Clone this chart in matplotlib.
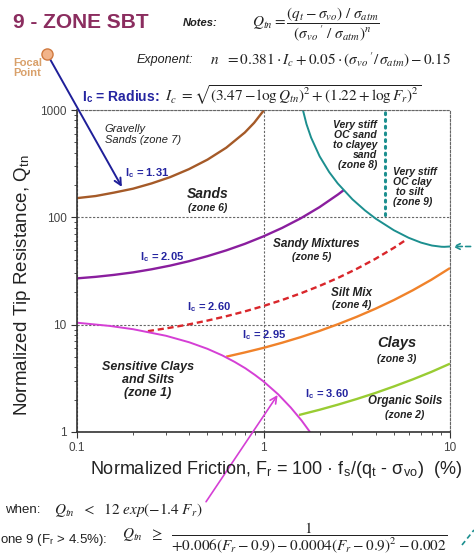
import matplotlib
matplotlib.use("Agg")
import matplotlib.pyplot as plt
from matplotlib.lines import Line2D
from matplotlib.ticker import LogLocator, NullFormatter

plt.rcParams['font.family'] = ['Liberation Sans', 'DejaVu Sans']
plt.rcParams['mathtext.fontset'] = 'stix'

W, H = 474, 560

# --- Ic contours (Fr in %, Qtn) ---
ic_values = [1.31, 2.05, 2.60, 2.95, 3.60]

ic131_fr = [0.1, 0.126, 0.158, 0.2, 0.251, 0.316, 0.398, 0.501, 0.631, 0.794, 0.891, 1.0, 1.007]
ic131_q = [151, 158, 170, 185, 207, 237, 281, 345, 445, 617, 760, 984, 1000]

ic205_fr = [0.1, 0.126, 0.158, 0.2, 0.251, 0.316, 0.398, 0.501, 0.631, 0.794, 1.0,
            1.259, 1.585, 1.995, 2.512, 2.69]
ic205_q = [27.0, 27.9, 29.1, 30.7, 32.8, 35.5, 39.0, 43.5, 49.2, 56.6, 66.5,
           79.7, 98.0, 124.3, 163.6, 179]

ic260_fr = [0.24, 0.316, 0.398, 0.501, 0.631, 0.794, 1.0, 1.259, 1.585, 1.995, 2.512,
            3.162, 3.981, 5.012, 5.9]
ic260_q = [8.7, 9.37, 10.06, 10.92, 11.98, 13.29, 14.93, 16.98, 19.59, 22.94, 27.31,
           33.13, 41.04, 52.11, 62.8]

ic295_fr = [0.631, 0.794, 1.0, 1.259, 1.585, 1.995, 2.512, 3.162, 3.981, 5.012, 6.31, 7.943, 10]
ic295_q = [5.03, 5.51, 6.08, 6.79, 7.66, 8.74, 10.11, 11.84, 14.07, 16.99, 20.90, 26.21, 33.68]

ic360_fr = [1.55, 1.778, 1.995, 2.512, 3.162, 3.981, 5.012, 6.31, 7.943, 10]
ic360_q = [1.44, 1.53, 1.61, 1.80, 2.03, 2.31, 2.66, 3.09, 3.63, 4.33]

# zone 1 boundary
zone1_fr = [0.1, 0.15, 0.2, 0.3, 0.4, 0.5, 0.6, 0.7, 0.8, 0.9, 1.0, 1.2, 1.4, 1.6, 1.775]
zone1_q = [10.43, 9.73, 9.07, 7.88, 6.85, 5.96, 5.18, 4.50, 3.92, 3.40, 2.96, 2.24, 1.69, 1.28, 1.0]

# zone 8 / zone 9 boundary
zone89_fr = [1.6, 1.7, 1.8, 2.0, 2.25, 2.5, 3.0, 3.5, 4.0, 5.0, 6.0, 7.0, 8.0, 9.0, 9.33, 10]
zone89_q = [1121, 739, 553, 370, 264, 207, 147, 116, 97.1, 75.8, 64.5, 58.1, 54.6, 53.2, 53.1, 53.5]

# Fr = 4.5 % split between zones 8 and 9
split_fr = [4.5, 4.5]
split_q = [105, 1000]

curve_data = [(ic131_fr, ic131_q), (ic205_fr, ic205_q), (ic260_fr, ic260_q),
              (ic295_fr, ic295_q), (ic360_fr, ic360_q)]
curve_colors = ['#A55A28', '#8A1E9E', '#D9262B', '#F0822A', '#99CC33']
curve_styles = ['-', '-', (0, (2.6, 1.6)), '-', '-']
ic_label_pos = [(0.181, 257), (0.218, 42.5), (0.389, 14.5), (0.767, 7.99), (1.67, 2.26)]

BLUE = '#2424A0'
TEAL = '#1C8F8F'
MAGENTA = '#D53FD5'
INK = '#222222'


def fp(x, y):
    """pixel position -> figure fraction"""
    return x / W, 1 - y / H


fig = plt.figure(figsize=(W / 100, H / 100), dpi=100)
ax = fig.add_axes([77 / W, 1 - 432 / H, 373 / W, 322 / H])
ax.set_xscale('log')
ax.set_yscale('log')
ax.set_xlim(0.1, 10)
ax.set_ylim(1, 1000)

for (fr, q), c, ls in zip(curve_data, curve_colors, curve_styles):
    ax.plot(fr, q, color=c, ls=ls, lw=1.7, solid_capstyle='butt')
ax.plot(zone1_fr, zone1_q, color=MAGENTA, lw=1.4)
ax.plot(zone89_fr, zone89_q, color=TEAL, lw=1.4)
ax.plot(split_fr, split_q, color=TEAL, lw=2.2, ls=(0, (0.6, 1.6)), dash_capstyle='round')

for v, (x, y) in zip(ic_values, ic_label_pos):
    ax.text(x, y, f"I$_\\mathregular{{c}}$ = {v:.2f}", color=BLUE, fontsize=8,
            fontweight='bold', ha='left', va='center')

# zone names
zkw = dict(color=INK, fontstyle='italic', fontweight='bold', ha='center', va='center')
ax.text(0.141, 592, "Gravelly\nSands (zone 7)", color=INK, fontstyle='italic',
        fontsize=8, ha='left', va='center', linespacing=1.05)
ax.text(0.504, 164, "Sands", fontsize=10, **zkw)
ax.text(0.504, 121, "(zone 6)", fontsize=7.5, **zkw)
ax.text(4.06, 468, "Very stiff\nOC sand\nto clayey\nsand\n(zone 8)", color=INK,
        fontstyle='italic', fontweight='bold', fontsize=7.5, ha='right', va='center',
        multialignment='right', linespacing=1.0)
ax.text(4.94, 190, "Very stiff\nOC clay\n to silt\n(zone 9)", color=INK,
        fontstyle='italic', fontweight='bold', fontsize=7.5, ha='left', va='center',
        linespacing=1.0)
ax.text(1.91, 56.1, "Sandy Mixtures", fontsize=8.5, **zkw)
ax.text(1.82, 42.5, "(zone 5)", fontsize=7.5, **zkw)
ax.text(2.98, 19.6, "Silt Mix", fontsize=8.5, **zkw)
ax.text(2.98, 15.2, "(zone 4)", fontsize=7.5, **zkw)
ax.text(5.2, 6.73, "Clays", fontsize=10.5, **zkw)
ax.text(5.2, 4.78, "(zone 3)", fontsize=7.5, **zkw)
ax.text(5.74, 1.94, "Organic Soils", fontsize=8.3, **zkw)
ax.text(5.74, 1.44, "(zone 2)", fontsize=7.5, **zkw)
ax.text(0.24, 3.05, "Sensitive Clays\nand Silts\n(zone 1)", fontsize=9,
        linespacing=1.1, **zkw)

# axes styling
ax.set_xticks([0.1, 1, 10], labels=['0.1', '1', '10'])
ax.set_yticks([1, 10, 100, 1000], labels=['1', '10', '100', '1000'])
for axis in (ax.xaxis, ax.yaxis):
    axis.set_minor_locator(LogLocator(subs=range(2, 10)))
    axis.set_minor_formatter(NullFormatter())
ax.tick_params(which='both', direction='out', color='#333333', labelcolor='#444444',
               labelsize=8.5)
ax.tick_params(which='major', length=4)
ax.tick_params(which='minor', length=2.5)
ax.grid(True, which='major', ls=(0, (2, 1.5)), color='#666666', lw=0.8)
for s in ('top', 'right'):
    ax.spines[s].set_linestyle((0, (2, 1.5)))
    ax.spines[s].set_color('#666666')
    ax.spines[s].set_linewidth(0.8)
for s in ('left', 'bottom'):
    ax.spines[s].set_color('#333333')
    ax.spines[s].set_linewidth(1.2)

# focal point + arrows
focal = (0.069, 3350)
ax.plot(*focal, 'o', ms=8, mfc='#F2B48A', mec='#D07A40', mew=1, clip_on=False, zorder=5)
ax.annotate('', xy=(0.174, 192), xytext=focal, annotation_clip=False,
            arrowprops=dict(arrowstyle='->', color='#1F1F99', lw=1.4,
                            shrinkA=4, shrinkB=0, mutation_scale=12))
ax.annotate('', xy=(1.19, 2.21), xytext=(0.492, 0.224), annotation_clip=False,
            arrowprops=dict(arrowstyle='->', color=MAGENTA, lw=1.2,
                            shrinkA=0, shrinkB=0, mutation_scale=12))
ax.annotate('', xy=(10.35, 53.5), xytext=(12.9, 53.5), annotation_clip=False,
            arrowprops=dict(arrowstyle='->', color=TEAL, lw=1.2, ls=(0, (3, 2)),
                            shrinkA=0, shrinkB=0, mutation_scale=10))
fig.add_artist(Line2D([462 / W, 474 / W], [1 - 545 / H, 1 - 530 / H], color=TEAL,
                      lw=1.2, ls=(0, (3, 2))))

# axis titles
fig.text(*fp(23, 285), "Normalized Tip Resistance, Q$_\\mathregular{tn}$", rotation=90,
         fontsize=13.5, color=INK, ha='center', va='center')
fig.text(*fp(90, 470), "Normalized Friction, F$_\\mathregular{r}$ = 100 \u00b7 "
         "f$_\\mathregular{s}$/(q$_\\mathregular{t}$ - \u03c3$_\\mathregular{vo}$)  (%)",
         fontsize=13, color=INK, ha='left', va='center')

# header
fig.text(*fp(13, 22), "9 - ZONE SBT", fontsize=15, fontweight='bold', color='#8B2D5F',
         ha='left', va='center')
fig.text(*fp(183, 23), "Notes:", fontsize=8, fontweight='bold', fontstyle='italic',
         color=INK, ha='left', va='center')
fig.text(*fp(252, 24), r"$Q_{tn} = \dfrac{(q_t - \sigma_{vo})\ /\ \sigma_{atm}}"
         r"{(\sigma_{vo}\,'\ /\ \sigma_{atm})^n}$", fontsize=11, color=INK,
         ha='left', va='center')
fig.text(*fp(13, 68), "Focal\nPoint", fontsize=8, fontweight='bold', color='#D9A06A',
         ha='left', va='center', linespacing=1.05)
fig.text(*fp(137, 60), "Exponent:", fontsize=9, fontstyle='italic', color=INK,
         ha='left', va='center')
fig.text(*fp(210, 60), r"$n\ \ = 0.381\cdot I_c + 0.05\cdot(\sigma_{vo}\,'/\,\sigma_{atm}) - 0.15$",
         fontsize=11, color=INK, ha='left', va='center')
fig.text(*fp(82, 97), "I$_\\mathregular{c}$ = Radius:", fontsize=10, fontweight='bold',
         color=BLUE, ha='left', va='center')
fig.text(*fp(165, 95), r"$I_c\ =\sqrt{(3.47 - \log Q_{tn})^2 + (1.22 + \log F_r)^2}$",
         fontsize=11, color=INK, ha='left', va='center')

# footer
fig.text(*fp(5, 510), "when:", fontsize=9.5, color=INK, ha='left', va='center')
fig.text(*fp(54, 510), r"$Q_{tn}\ \ <\ \ 12\ exp(-1.4\ F_r)$", fontsize=11, color=INK,
         ha='left', va='center')
fig.text(*fp(0, 540), "one 9 (F$_\\mathregular{r}$ > 4.5%):", fontsize=9.5, color=INK,
         ha='left', va='center')
fig.text(*fp(122, 538), r"$Q_{tn}\ \ \geq\ \ \dfrac{1}{+0.006(F_r-0.9)-0.0004(F_r-0.9)^2-0.002}$",
         fontsize=11, color=INK, ha='left', va='center')

fig.savefig("out.png", dpi=100)
